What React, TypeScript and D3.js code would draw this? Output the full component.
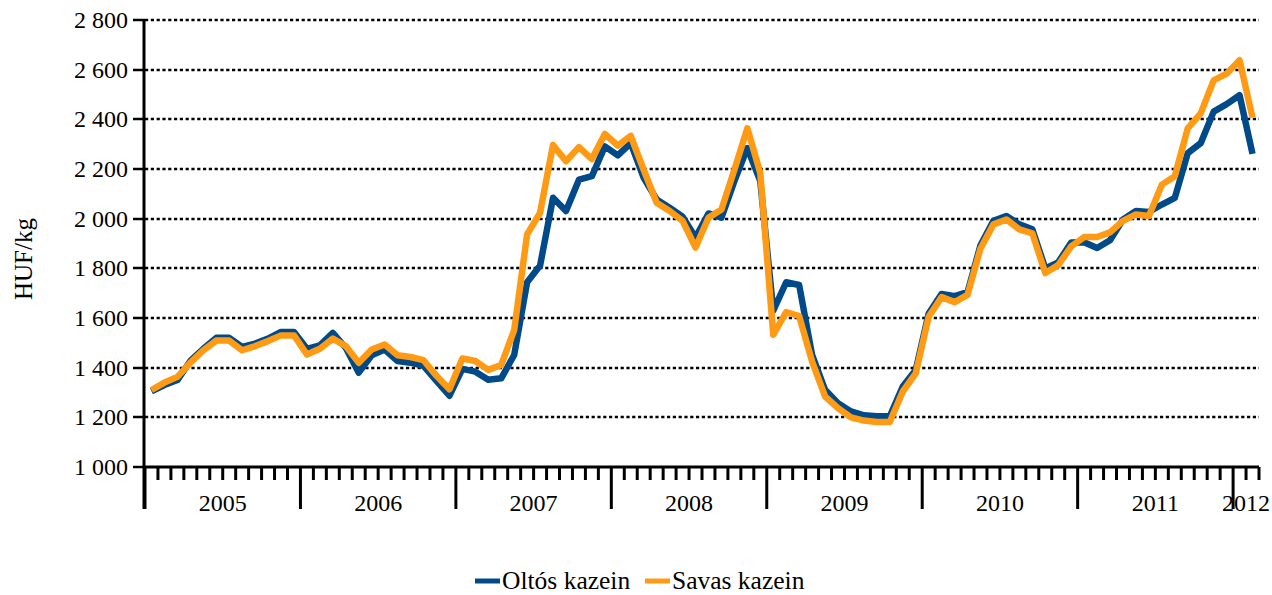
import React, { useEffect, useRef } from 'react';
import * as d3 from 'd3';

// months per year on the category axis (2012 only has two)
const years = ['2005', '2006', '2007', '2008', '2009', '2010', '2011', '2012'];
const monthsPerYear = [12, 12, 12, 12, 12, 12, 12, 2];

const yTicks = [1000, 1200, 1400, 1600, 1800, 2000, 2200, 2400, 2600, 2800];

// HUF/kg, monthly
const oltos = [
  1305, 1330, 1350, 1427, 1476, 1520, 1520, 1484, 1497, 1517, 1544, 1544,
  1476, 1490, 1540, 1480, 1380, 1450, 1473, 1427, 1420, 1407, 1347, 1287,
  1395, 1384, 1351, 1357, 1451, 1744, 1811, 2084, 2031, 2157, 2171, 2291,
  2255, 2304, 2164, 2077, 2044, 2008, 1924, 2021, 2004, 2151, 2284, 2151,
  1630, 1744, 1733, 1451, 1311, 1257, 1224, 1208, 1204, 1204, 1324, 1391,
  1618, 1697, 1688, 1704, 1893, 1991, 2011, 1977, 1957, 1800, 1824, 1904,
  1905, 1882, 1913, 1997, 2031, 2027, 2057, 2084, 2264, 2304, 2431, 2461,
  2497, 2261,
];

const savas = [
  1310, 1340, 1363, 1420, 1470, 1509, 1509, 1470, 1487, 1507, 1530, 1530,
  1453, 1476, 1517, 1487, 1420, 1473, 1493, 1450, 1443, 1430, 1367, 1313,
  1437, 1427, 1391, 1411, 1551, 1937, 2024, 2297, 2231, 2288, 2240, 2341,
  2294, 2333, 2197, 2064, 2031, 1991, 1884, 2004, 2037, 2197, 2364, 2184,
  1533, 1624, 1608, 1424, 1284, 1237, 1200, 1187, 1181, 1181, 1304, 1377,
  1605, 1684, 1664, 1693, 1880, 1977, 1997, 1957, 1941, 1781, 1813, 1888,
  1926, 1926, 1945, 1991, 2017, 2011, 2137, 2171, 2364, 2424, 2557, 2584,
  2638, 2407,
];

const seriesNames = ['Oltós kazein', 'Savas kazein'];
const BLUE = '#004a8a';
const ORANGE = '#ff9a14';
const FONT = '"Liberation Serif", "Times New Roman", serif';

const W = 1272;
const H = 595;

const App: React.FC = () => {
  const svgRef = useRef<SVGSVGElement>(null);

  useEffect(() => {
    if (!svgRef.current) return;
    const svg = d3.select(svgRef.current);
    svg.selectAll('*').remove();

    const left = 145;
    const right = 1259;
    const top = 20;
    const bottom = 467;

    const nMonths = d3.sum(monthsPerYear);
    const x = d3.scaleBand<number>()
      .domain(d3.range(nMonths))
      .range([left, right])
      .padding(0);
    const xc = (i: number) => (x(i) as number) + x.bandwidth() / 2;

    const y = d3.scaleLinear().domain([1000, 2800]).range([bottom, top]);
    const fmt = (v: number) => d3.format(',')(v).replace(/,/g, ' ');

    // dotted gridlines
    svg.append('g')
      .selectAll('line')
      .data(yTicks.filter(t => t > 1000))
      .join('line')
      .attr('x1', left)
      .attr('x2', right)
      .attr('y1', d => Math.round(y(d)))
      .attr('y2', d => Math.round(y(d)))
      .attr('stroke', '#000')
      .attr('stroke-width', 2.5)
      .attr('stroke-dasharray', '3.2,2.6');

    // y axis
    svg.append('line')
      .attr('x1', left - 1).attr('x2', left - 1)
      .attr('y1', top).attr('y2', bottom + 42)
      .attr('stroke', '#000').attr('stroke-width', 3);

    const yAxis = svg.append('g');
    yAxis.selectAll('line')
      .data(yTicks)
      .join('line')
      .attr('x1', left - 12)
      .attr('x2', left)
      .attr('y1', d => Math.round(y(d)))
      .attr('y2', d => Math.round(y(d)))
      .attr('stroke', '#000')
      .attr('stroke-width', 2.5);
    yAxis.selectAll('text')
      .data(yTicks)
      .join('text')
      .attr('x', left - 17)
      .attr('y', d => y(d))
      .attr('dy', '0.34em')
      .attr('text-anchor', 'end')
      .style('font-family', FONT)
      .style('font-size', '24px')
      .attr('fill', '#000')
      .text(d => fmt(d));

    svg.append('text')
      .attr('transform', `translate(32,259) rotate(-90)`)
      .attr('text-anchor', 'middle')
      .style('font-family', FONT)
      .style('font-size', '25px')
      .text('HUF/kg');

    // x axis
    svg.append('line')
      .attr('x1', left - 1).attr('x2', right)
      .attr('y1', bottom).attr('y2', bottom)
      .attr('stroke', '#000').attr('stroke-width', 3);

    const yearStarts = Array.from(d3.cumsum([0, ...monthsPerYear.slice(0, -1)]));
    const boundaries = d3.range(nMonths + 1);
    svg.append('g')
      .selectAll('line')
      .data(boundaries)
      .join('line')
      .attr('x1', i => (i < nMonths ? (x(i) as number) : right))
      .attr('x2', i => (i < nMonths ? (x(i) as number) : right))
      .attr('y1', bottom)
      .attr('y2', i => (yearStarts.includes(i) ? bottom + 42 : bottom + 13))
      .attr('stroke', '#000')
      .attr('stroke-width', 3);

    svg.append('g')
      .selectAll('text')
      .data(years)
      .join('text')
      .attr('x', (_, k) => {
        const s = yearStarts[k];
        const e = s + monthsPerYear[k];
        const x0 = x(s) as number;
        const x1 = e < nMonths ? (x(e) as number) : right;
        return (x0 + x1) / 2;
      })
      .attr('y', bottom + 44)
      .attr('text-anchor', 'middle')
      .style('font-family', FONT)
      .style('font-size', '24px')
      .text(d => d);

    // lines
    const line = d3.line<number>()
      .x((_, i) => xc(i))
      .y(d => y(d))
      .curve(d3.curveLinear);

    [oltos, savas].forEach((s, k) => {
      svg.append('path')
        .datum(s)
        .attr('d', line)
        .attr('fill', 'none')
        .attr('stroke', k === 0 ? BLUE : ORANGE)
        .attr('stroke-width', 6.5)
        .attr('stroke-linejoin', 'round');
    });

    // legend
    const legendX = [475, 645];
    seriesNames.forEach((name, k) => {
      const g = svg.append('g').attr('transform', `translate(${legendX[k]},581)`);
      g.append('line')
        .attr('x1', 0).attr('x2', 25)
        .attr('y1', 0).attr('y2', 0)
        .attr('stroke', k === 0 ? BLUE : ORANGE)
        .attr('stroke-width', 5);
      g.append('text')
        .attr('x', 27)
        .attr('y', 8)
        .style('font-family', FONT)
        .style('font-size', '25.5px')
        .text(name);
    });
  }, []);

  return (
    <div style={{ position: 'absolute', left: 0, top: 0, background: '#fff' }}>
      <svg ref={svgRef} width={W} height={H}></svg>
    </div>
  );
};

export default App;
